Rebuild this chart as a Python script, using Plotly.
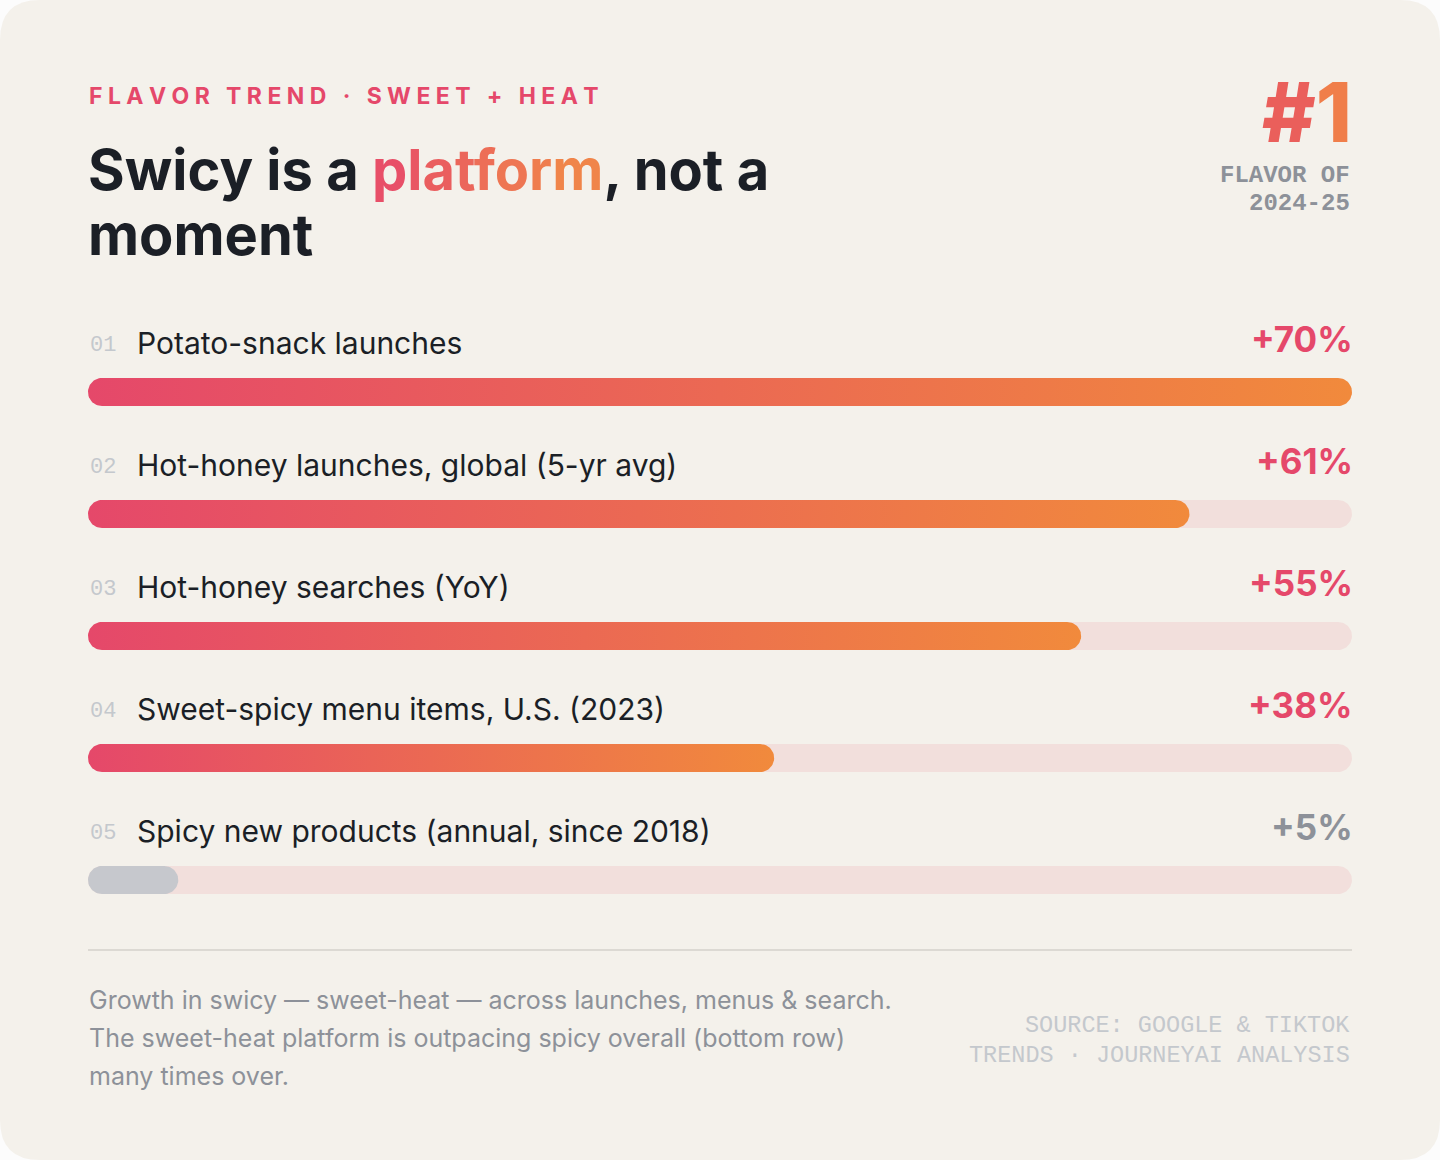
import numpy as np
import plotly.graph_objects as go

# --- data -------------------------------------------------------------
row_nums = ["01", "02", "03", "04", "05"]
row_labels = [
    "Potato-snack launches",
    "Hot-honey launches, global (5-yr avg)",
    "Hot-honey searches (YoY)",
    "Sweet-spicy menu items, U.S. (2023)",
    "Spicy new products (annual, since 2018)",
]
growth_pct = [70, 61, 55, 38, 5]
is_swicy = [True, True, True, True, False]
scale_max = 70

kicker = "FLAVOR TREND · SWEET + HEAT"
title_pre, title_hl, title_post = "Swicy is a ", "platform", ", not a"
title_line2 = "moment"
badge_big = "#1"
badge_small = ["FLAVOR OF", "2024-25"]
foot_lines = [
    "Growth in swicy — sweet-heat — across launches, menus & search.",
    "The sweet-heat platform is outpacing spicy overall (bottom row)",
    "many times over.",
]
source_lines = ["SOURCE: GOOGLE & TIKTOK", "TRENDS · JOURNEYAI ANALYSIS"]

# --- look -------------------------------------------------------------
W, H = 1440, 1160
TRACK_L, TRACK_R = 88, 1352
ROW0, ROW_STEP = 392, 122     # pixel centre of first bar, row pitch
BAR_H = 28

BG = "#f4f1eb"
PINK = "#e5486a"
ORANGE = "#f18a3c"
TRACK = "#f2dfdc"
GREY_BAR = "#c6c8cd"
INK = "#1b1f26"
MUTED = "#8d9199"
FAINT = "#c4c8cd"

SANS = "Inter, 'Noto Sans', sans-serif"
MONO = "'Liberation Mono', 'DejaVu Sans Mono', monospace"


def px(x):
    return x / W


def py(y):
    return 1 - y / H


def mix(c1, c2, t):
    a = [int(c1[i:i + 2], 16) for i in (1, 3, 5)]
    b = [int(c2[i:i + 2], 16) for i in (1, 3, 5)]
    return "#" + "".join(f"{round(a[k] + (b[k] - a[k]) * t):02x}" for k in range(3))


def capsule(x0, x1, yc):
    # rounded bar outline in data units (x: percent, y: row index)
    rx = (BAR_H / 2) * scale_max / (TRACK_R - TRACK_L)
    ry = (BAR_H / 2) / ROW_STEP
    rx = min(rx, (x1 - x0) / 2)
    t1 = np.linspace(np.pi / 2, 3 * np.pi / 2, 30)
    t2 = np.linspace(-np.pi / 2, np.pi / 2, 30)
    xs = np.concatenate([x0 + rx + rx * np.cos(t1), x1 - rx + rx * np.cos(t2)])
    ys = np.concatenate([yc + ry * np.sin(t1), yc + ry * np.sin(t2)])
    return np.append(xs, xs[0]), np.append(ys, ys[0])


fig = go.Figure()

for i, (val, hot) in enumerate(zip(growth_pct, is_swicy)):
    tx, ty = capsule(0, scale_max, i)
    fig.add_trace(go.Scatter(x=tx, y=ty, mode="lines", fill="toself",
                             fillcolor=TRACK, line=dict(width=0),
                             hoverinfo="skip", showlegend=False))
    bx, by = capsule(0, val, i)
    if hot:
        fig.add_trace(go.Scatter(
            x=bx, y=by, mode="lines", fill="toself", line=dict(width=0),
            fillgradient=dict(type="horizontal",
                              colorscale=[[0, PINK], [1, ORANGE]]),
            hoverinfo="skip", showlegend=False))
    else:
        fig.add_trace(go.Scatter(x=bx, y=by, mode="lines", fill="toself",
                                 fillcolor=GREY_BAR, line=dict(width=0),
                                 hoverinfo="skip", showlegend=False))

annotations = []


def note(text, x, y, size, color, family=SANS, xanchor="left", weight=400,
         xref="paper", yref="paper"):
    annotations.append(dict(
        text=text, x=x, y=y, xref=xref, yref=yref, xanchor=xanchor,
        yanchor="middle", showarrow=False,
        font=dict(family=family, size=size, color=color, weight=weight)))


# row texts sit half a row above each bar
for i, (num, lab, val, hot) in enumerate(zip(row_nums, row_labels, growth_pct, is_swicy)):
    yrow = i - 49 / ROW_STEP
    note(num, 0, yrow + 2 / ROW_STEP, 22, FAINT, family=MONO, xref="x", yref="y")
    note(lab, px(135), yrow, 30, INK, yref="y")
    note(f"+{val}%", px(1355), yrow - 4 / ROW_STEP, 35, PINK if hot else MUTED,
         xanchor="right", weight=700, yref="y")

# header (thin + hair spaces imitate the wide tracking)
note("\u2009\u200a".join(kicker), px(87), py(96), 23, PINK, weight=700)
hl = "".join(f"<span style='color:{mix('#e84f68', '#f0854a', k / (len(title_hl) - 1))}'>{ch}</span>"
             for k, ch in enumerate(title_hl))
note(title_pre + hl + title_post, px(86), py(170), 56, INK, weight=700)
note(title_line2, px(86), py(235), 56, INK, weight=700)

big = f"<span style='color:#ea5f5b'>{badge_big[0]}</span><span style='color:#f07e4a'>{badge_big[1]}</span>"
note(big, px(1354), py(113), 82, "#ee6e52", xanchor="right", weight=800)
note(badge_small[0], px(1352), py(175), 24, MUTED, family=MONO, xanchor="right", weight=700)
note(badge_small[1], px(1352), py(203), 24, MUTED, family=MONO, xanchor="right", weight=700)

# footer
for k, line in enumerate(foot_lines):
    note(line, px(87), py(1000 + 38 * k), 25, MUTED)
for k, line in enumerate(source_lines):
    note(line, px(1352), py(1025 + 30 * k), 23.5, FAINT, family=MONO, xanchor="right")

# card with rounded corners
R = 40


def P(x, y):
    return f"{px(x):.5f},{py(y):.5f}"


card = (f"M {P(R, 0)} L {P(W - R, 0)} Q {P(W, 0)} {P(W, R)} "
        f"L {P(W, H - R)} Q {P(W, H)} {P(W - R, H)} "
        f"L {P(R, H)} Q {P(0, H)} {P(0, H - R)} "
        f"L {P(0, R)} Q {P(0, 0)} {P(R, 0)} Z")

fig.update_layout(
    width=W, height=H,
    margin=dict(l=0, r=0, t=0, b=0),
    paper_bgcolor="#fcfcfc",
    plot_bgcolor="rgba(0,0,0,0)",
    showlegend=False,
    annotations=annotations,
    shapes=[
        dict(type="path", path=card, xref="paper", yref="paper",
             fillcolor=BG, line=dict(width=0), layer="below"),
        dict(type="line", xref="paper", yref="paper",
             x0=px(TRACK_L), x1=px(TRACK_R), y0=py(950), y1=py(950),
             line=dict(color="#dcd9d3", width=2), layer="below"),
    ],
    xaxis=dict(domain=[px(TRACK_L), px(TRACK_R)], range=[0, scale_max],
               visible=False, fixedrange=True),
    yaxis=dict(domain=[0, 1],
               range=[(H - ROW0) / ROW_STEP, -ROW0 / ROW_STEP],
               visible=False, fixedrange=True),
)

# drop the browser's default 8px body margin so the card sits flush
fig.write_html("out.html", config={"displayModeBar": False},
               post_script="document.body.style.margin='0';")
